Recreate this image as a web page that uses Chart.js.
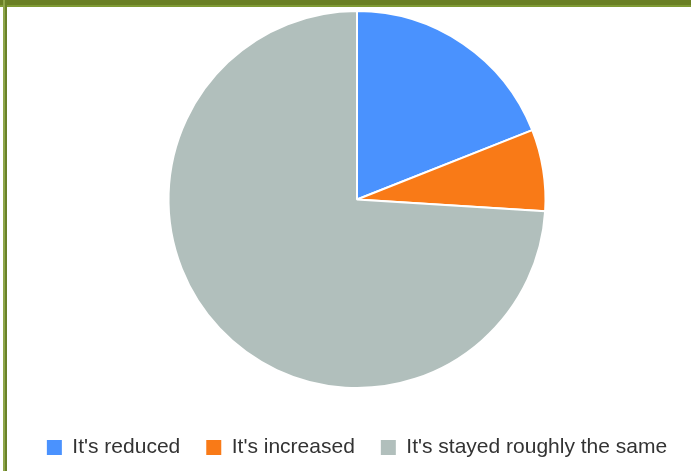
<!DOCTYPE html>
<html>
<head>
<meta charset="utf-8">
<script src="https://cdn.jsdelivr.net/npm/chart.js@4/dist/chart.umd.min.js"></script>
<style>
    html, body { margin: 0; padding: 0; background: #fff; }
    #frame { position: relative; width: 691px; height: 471px; overflow: hidden; background: #fff; }
    #topBar { position: absolute; left: 0; top: 0; width: 691px; height: 5px; background: #6a7f24; border-bottom: 2px solid #7f9a33; z-index: 2; }
    #leftBar { position: absolute; left: 3px; top: 0; width: 2px; height: 471px; background: #8fa64a; border-right: 2px solid #6a8228; z-index: 2; }
    #chartBox { position: absolute; left: 7px; top: 7px; width: 700px; height: 464px; }
</style>
</head>
<body>
<div id="frame">
    <div id="topBar"></div>
    <div id="leftBar"></div>
    <div id="chartBox"><canvas id="answerPie"></canvas></div>
</div>
<script>
var answerLabels = ["It's reduced", "It's increased", "It's stayed roughly the same"];
var answerShares = [19, 7, 74];
var answerColors = ['#4a92fe', '#f97a17', '#b1bfbc'];

var ctx = document.getElementById("answerPie").getContext('2d');

var pieData = {
    labels: answerLabels,
    datasets: [
        {
            data: answerShares,
            backgroundColor: answerColors,
            borderColor: '#ffffff',
            borderWidth: 2
        }
    ]
};

var pieOptions = {
    responsive: true,
    maintainAspectRatio: false,
    animation: false,
    layout: {
        padding: { top: 3, bottom: 3, left: 0, right: 0 }
    },
    plugins: {
        tooltip: { enabled: false },
        legend: {
            position: 'bottom',
            // empty title only used as spacing above the labels
            title: {
                display: true,
                text: '',
                font: { size: 10 },
                padding: { top: 0, bottom: 10 }
            },
            labels: {
                boxWidth: 15,
                boxHeight: 15,
                padding: 26,
                color: '#333333',
                font: { family: "'Liberation Sans', Arial, sans-serif", size: 21 },
                generateLabels: function (chart) {
                    return Chart.overrides.pie.plugins.legend.labels.generateLabels(chart).map(function (item) {
                        item.lineWidth = 0;
                        return item;
                    });
                }
            }
        }
    }
};

new Chart(ctx, {
    type: 'pie',
    data: pieData,
    options: pieOptions
});
</script>
</body>
</html>
